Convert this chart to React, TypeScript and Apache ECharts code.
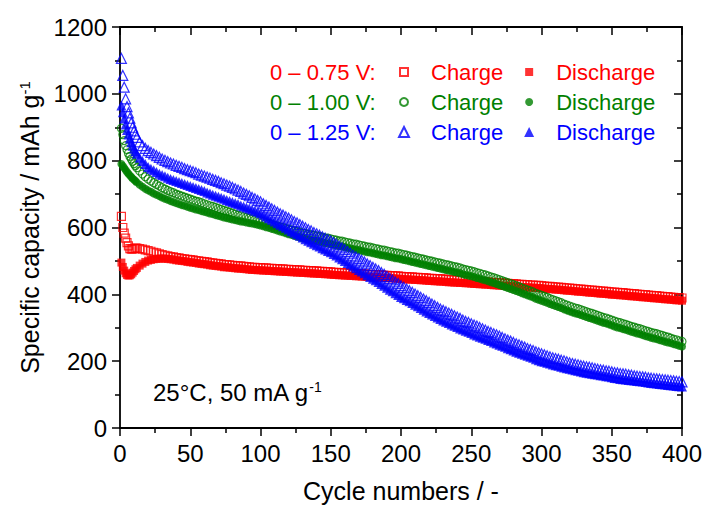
import React, { useEffect, useRef } from 'react';
import * as echarts from 'echarts';

const CYCLES = [
  1, 2, 3, 4, 5, 6, 7, 8, 9, 10, 11, 12,
  14, 16, 18, 20,
  22, 24, 26, 28, 30, 32, 34, 36, 38, 40,
  42, 44, 46, 48, 50, 52, 54, 56, 58, 60,
  62, 64, 66, 68, 70, 72, 74, 76, 78, 80,
  82, 84, 86, 88, 90, 92, 94, 96, 98, 100,
  102, 104, 106, 108, 110, 112, 114, 116, 118, 120,
  122, 124, 126, 128, 130, 132, 134, 136, 138, 140,
  142, 144, 146, 148, 150, 152, 154, 156, 158, 160,
  162, 164, 166, 168, 170, 172, 174, 176, 178, 180,
  182, 184, 186, 188, 190, 192, 194, 196, 198, 200,
  202, 204, 206, 208, 210, 212, 214, 216, 218, 220,
  222, 224, 226, 228, 230, 232, 234, 236, 238, 240,
  242, 244, 246, 248, 250, 252, 254, 256, 258, 260,
  262, 264, 266, 268, 270, 272, 274, 276, 278, 280,
  282, 284, 286, 288, 290, 292, 294, 296, 298, 300,
  302, 304, 306, 308, 310, 312, 314, 316, 318, 320,
  322, 324, 326, 328, 330, 332, 334, 336, 338, 340,
  342, 344, 346, 348, 350, 352, 354, 356, 358, 360,
  362, 364, 366, 368, 370, 372, 374, 376, 378, 380,
  382, 384, 386, 388, 390, 392, 394, 396, 398, 400,
];

// 0 – 0.75 V
const RED_CHARGE = [
  633, 600, 583, 568, 555, 545, 537, 535, 536, 537, 538, 538,
  537, 535, 533, 531,
  529, 526, 524, 521, 519, 517, 515, 513, 512, 510,
  509, 507, 506, 505, 504, 503, 501, 500, 499, 498,
  497, 495, 494, 493, 492, 491, 489, 489, 488, 487,
  486, 485, 485, 484, 483, 482, 481, 481, 480, 480,
  479, 479, 478, 478, 477, 477, 476, 476, 475, 475,
  474, 474, 473, 473, 472, 472, 471, 471, 470, 470,
  469, 469, 468, 468, 467, 466, 466, 465, 465, 464,
  464, 463, 463, 462, 462, 461, 461, 460, 460, 459,
  459, 458, 458, 457, 457, 456, 456, 455, 455, 454,
  453, 453, 452, 452, 451, 451, 450, 450, 449, 448,
  448, 447, 447, 446, 446, 445, 444, 444, 443, 443,
  442, 442, 441, 441, 440, 439, 439, 438, 438, 437,
  437, 436, 435, 435, 434, 434, 433, 433, 432, 432,
  431, 430, 430, 429, 429, 428, 428, 427, 427, 426,
  425, 424, 424, 423, 422, 422, 421, 420, 419, 419,
  418, 417, 416, 416, 415, 414, 413, 413, 412, 411,
  410, 410, 409, 408, 407, 407, 406, 405, 405, 404,
  403, 402, 402, 401, 400, 399, 399, 398, 397, 396,
  396, 395, 394, 393, 393, 392, 391, 390, 390, 389,
];
const RED_DISCHARGE = [
  495, 482, 471, 463, 458, 456, 457, 460, 465, 470, 475, 479,
  486, 492, 497, 501,
  503, 505, 506, 507, 507, 507, 506, 505, 504, 502,
  501, 500, 499, 497, 496, 495, 494, 492, 491, 490,
  489, 487, 486, 485, 484, 483, 481, 481, 480, 479,
  478, 477, 477, 476, 475, 474, 473, 473, 472, 472,
  471, 471, 470, 470, 469, 469, 468, 468, 467, 467,
  466, 466, 465, 465, 464, 464, 463, 463, 462, 462,
  461, 461, 460, 460, 459, 458, 458, 457, 457, 456,
  456, 455, 455, 454, 454, 453, 453, 452, 452, 451,
  451, 450, 450, 449, 449, 448, 448, 447, 447, 446,
  445, 445, 444, 444, 443, 443, 442, 442, 441, 440,
  440, 439, 439, 438, 438, 437, 436, 436, 435, 435,
  434, 434, 433, 433, 432, 431, 431, 430, 430, 429,
  429, 428, 427, 427, 426, 426, 425, 425, 424, 424,
  423, 422, 422, 421, 421, 420, 420, 419, 419, 418,
  417, 416, 416, 415, 414, 414, 413, 412, 411, 411,
  410, 409, 408, 408, 407, 406, 405, 405, 404, 403,
  402, 402, 401, 400, 399, 399, 398, 397, 397, 396,
  395, 394, 394, 393, 392, 391, 391, 390, 389, 388,
  388, 387, 386, 385, 385, 384, 383, 382, 382, 381,
];

// 0 – 1.00 V
const GREEN_CHARGE = [
  897, 878, 860, 845, 833, 822, 813, 805, 798, 791, 785, 779,
  769, 760, 752, 745,
  739, 734, 729, 724, 719, 715, 711, 707, 704, 700,
  697, 694, 691, 688, 685, 682, 679, 677, 674, 671,
  668, 665, 663, 660, 657, 654, 651, 649, 646, 643,
  640, 637, 635, 632, 630, 628, 626, 624, 622, 620,
  617, 614, 612, 609, 607, 605, 602, 600, 597, 595,
  593, 590, 588, 586, 584, 582, 580, 578, 577, 575,
  573, 571, 569, 568, 566, 564, 562, 560, 559, 557,
  555, 553, 551, 550, 548, 546, 544, 542, 541, 539,
  537, 535, 533, 532, 530, 528, 526, 524, 523, 521,
  519, 517, 515, 513, 511, 509, 507, 505, 503, 501,
  499, 497, 495, 493, 491, 489, 487, 485, 483, 481,
  479, 476, 474, 472, 470, 468, 465, 463, 460, 458,
  455, 452, 450, 447, 444, 441, 438, 435, 432, 429,
  426, 423, 419, 416, 413, 410, 407, 403, 400, 397,
  394, 391, 387, 384, 381, 378, 375, 371, 368, 365,
  362, 359, 357, 354, 351, 348, 345, 343, 340, 337,
  334, 331, 329, 326, 323, 320, 317, 315, 312, 310,
  307, 304, 302, 299, 297, 294, 291, 289, 286, 284,
  282, 279, 277, 274, 272, 269, 266, 264, 261, 259,
];
const GREEN_DISCHARGE = [
  790, 784, 778, 772, 766, 761, 756, 751, 747, 743, 739, 735,
  728, 722, 716, 711,
  707, 702, 698, 694, 690, 686, 683, 679, 676, 673,
  670, 667, 665, 662, 659, 657, 654, 652, 649, 647,
  645, 642, 640, 637, 635, 633, 630, 628, 626, 624,
  622, 620, 618, 617, 615, 613, 612, 610, 608, 606,
  604, 601, 599, 596, 594, 591, 588, 586, 583, 580,
  578, 575, 573, 570, 568, 566, 564, 562, 561, 559,
  557, 555, 553, 552, 550, 548, 546, 544, 543, 541,
  539, 537, 535, 534, 532, 530, 528, 526, 525, 523,
  521, 519, 517, 516, 514, 512, 510, 508, 507, 505,
  503, 501, 499, 497, 495, 493, 491, 489, 487, 485,
  483, 481, 479, 477, 475, 473, 471, 469, 467, 465,
  463, 460, 458, 456, 454, 452, 449, 447, 444, 442,
  439, 436, 434, 431, 428, 425, 422, 419, 416, 413,
  410, 407, 403, 400, 397, 394, 391, 387, 384, 381,
  378, 375, 371, 368, 365, 362, 359, 355, 352, 349,
  346, 343, 341, 338, 335, 332, 329, 327, 324, 321,
  318, 315, 313, 310, 307, 304, 301, 299, 296, 294,
  291, 288, 286, 283, 281, 278, 275, 273, 270, 268,
  266, 263, 261, 258, 256, 254, 251, 249, 246, 244,
];

// 0 – 1.25 V
const BLUE_CHARGE = [
  1106, 1055, 1020, 985, 962, 943, 927, 913, 900, 889, 879, 870,
  856, 845, 837, 830,
  825, 820, 815, 810, 805, 801, 797, 793, 790, 786,
  783, 780, 776, 773, 770, 767, 764, 760, 757, 754,
  751, 748, 744, 741, 738, 734, 731, 727, 724, 720,
  716, 712, 708, 703, 699, 695, 690, 686, 681, 677,
  671, 666, 661, 656, 651, 646, 641, 637, 632, 628,
  623, 618, 614, 609, 604, 599, 594, 590, 585, 581,
  577, 572, 568, 564, 560, 555, 550, 544, 539, 534,
  528, 523, 517, 512, 507, 502, 497, 491, 486, 481,
  476, 471, 465, 460, 454, 448, 443, 437, 432, 426,
  421, 416, 411, 406, 401, 396, 391, 386, 381, 376,
  371, 366, 361, 356, 352, 348, 344, 340, 336, 332,
  328, 323, 319, 316, 312, 308, 305, 301, 297, 293,
  289, 286, 282, 279, 275, 271, 267, 263, 260, 256,
  252, 249, 245, 242, 238, 235, 232, 228, 225, 222,
  219, 216, 213, 210, 208, 206, 203, 201, 198, 195,
  193, 191, 189, 187, 185, 183, 182, 180, 178, 176,
  174, 173, 171, 170, 168, 166, 165, 163, 162, 161,
  159, 158, 156, 155, 154, 153, 152, 150, 149, 148,
  147, 146, 145, 144, 143, 142, 141, 140, 139, 138,
];
const BLUE_DISCHARGE = [
  965, 945, 926, 908, 892, 878, 866, 855, 845, 836, 828, 821,
  809, 799, 790, 781,
  776, 771, 766, 761, 757, 753, 749, 745, 742, 739,
  736, 733, 730, 727, 724, 721, 718, 715, 712, 709,
  705, 702, 698, 695, 692, 689, 686, 682, 679, 676,
  673, 670, 666, 663, 660, 657, 654, 650, 647, 643,
  638, 633, 628, 623, 618, 613, 608, 604, 599, 594,
  589, 584, 580, 575, 570, 565, 560, 556, 551, 547,
  543, 538, 534, 530, 526, 521, 516, 510, 505, 500,
  494, 489, 483, 478, 473, 468, 463, 457, 452, 447,
  442, 437, 431, 426, 420, 414, 409, 403, 398, 392,
  388, 383, 379, 374, 369, 364, 359, 354, 349, 344,
  340, 335, 331, 326, 322, 318, 314, 310, 306, 302,
  298, 295, 291, 288, 284, 280, 277, 273, 270, 267,
  263, 260, 256, 253, 249, 246, 243, 239, 236, 232,
  228, 225, 222, 219, 216, 213, 210, 206, 203, 200,
  198, 195, 193, 190, 188, 186, 183, 181, 179, 177,
  175, 173, 171, 169, 167, 165, 164, 162, 161, 160,
  158, 157, 155, 154, 152, 150, 149, 147, 146, 145,
  144, 143, 142, 141, 140, 139, 138, 136, 135, 134,
  133, 132, 131, 130, 129, 128, 127, 126, 125, 124,
];

const RANGE_LABELS = ['0 – 0.75 V:', '0 – 1.00 V:', '0 – 1.25 V:'];

const RED = '#FF0000';
const GREEN = '#008000';
const BLUE = '#0000FF';
const FONT = '"Liberation Sans", Arial, Helvetica, sans-serif';

export default function App() {
  const ref = useRef<HTMLDivElement>(null);

  useEffect(() => {
    if (!ref.current) return;
    const chart = echarts.init(ref.current, null, { renderer: 'svg' });
    const pts = (vals: number[]) => CYCLES.map((c, i) => [c, vals[i]]);

    const groups = [
      { range: RANGE_LABELS[0], color: RED, symbol: 'rect', size: 8, legendSize: 8, charge: RED_CHARGE, discharge: RED_DISCHARGE },
      { range: RANGE_LABELS[1], color: GREEN, symbol: 'circle', size: 8, legendSize: 8, charge: GREEN_CHARGE, discharge: GREEN_DISCHARGE },
      { range: RANGE_LABELS[2], color: BLUE, symbol: 'triangle', size: 10, legendSize: 10, charge: BLUE_CHARGE, discharge: BLUE_DISCHARGE },
    ];

    const series: any[] = [];
    const legends: any[] = [];
    const graphics: any[] = [];
    groups.forEach((g, i) => {
      const cName = `${g.range} Charge`;
      const dName = `${g.range} Discharge`;
      series.push({
        name: cName,
        type: 'scatter',
        symbol: g.symbol,
        symbolSize: g.size,
        data: pts(g.charge),
        itemStyle: { color: 'rgba(0,0,0,0)', borderColor: g.color, borderWidth: 1.2 },
        silent: true,
        emphasis: { disabled: true },
        z: 2 + i * 2,
      });
      series.push({
        name: dName,
        type: 'scatter',
        symbol: g.symbol,
        symbolSize: g.size,
        data: pts(g.discharge),
        itemStyle: { color: g.color, borderWidth: 0 },
        silent: true,
        emphasis: { disabled: true },
        z: 3 + i * 2,
      });
      const s = g.legendSize;
      legends.push({
        left: 403 - s / 2,
        top: 60 + i * 30,
        padding: 0,
        orient: 'horizontal',
        itemWidth: s,
        itemHeight: s,
        itemGap: 528 - s / 2 - 502,
        selectedMode: false,
        data: [cName, dName],
        formatter: (n: string) => (n.endsWith('Discharge') ? 'Discharge' : 'Charge'),
        textStyle: {
          color: g.color,
          fontSize: 22,
          fontFamily: FONT,
          lineHeight: 24,
          padding: [0, 0, 0, 430 - (403 + s / 2 + 5)],
        },
      });
      graphics.push({
        type: 'text',
        x: 270,
        y: 72 + i * 30,
        silent: true,
        style: {
          text: g.range,
          fill: g.color,
          fontSize: 22,
          fontFamily: FONT,
          align: 'left',
          verticalAlign: 'middle',
        },
      });
    });

    graphics.push({
      type: 'text',
      x: 153,
      y: 392,
      silent: true,
      style: {
        text: '25°C, 50 mA g{sup|-1}',
        fill: '#000',
        fontSize: 24,
        fontFamily: FONT,
        align: 'left',
        verticalAlign: 'middle',
        rich: {
          sup: { fontSize: 14, fontFamily: FONT, fill: '#000', verticalAlign: 'top' },
        },
      },
    });

    const axisLine = { show: true, onZero: false, lineStyle: { color: '#000', width: 1.8 } };
    const tickStyle = { color: '#000', width: 1.5 };
    const plain = (v: number) => String(v);

    chart.setOption({
      animation: false,
      backgroundColor: '#fff',
      grid: { left: 120, right: 22, top: 27, bottom: 78, containLabel: false, outerBoundsMode: 'none' },
      legend: legends,
      graphic: graphics,
      xAxis: [
        {
          type: 'value',
          position: 'bottom',
          min: 0,
          max: 400,
          interval: 50,
          axisLine,
          axisTick: { show: true, inside: false, length: 8, lineStyle: tickStyle },
          minorTick: { show: true, splitNumber: 2, length: 5, lineStyle: tickStyle },
          splitLine: { show: false },
          minorSplitLine: { show: false },
          axisLabel: { fontSize: 24, fontFamily: FONT, color: '#000', margin: 13, formatter: plain },
          name: 'Cycle numbers / -',
          nameLocation: 'middle',
          nameGap: 50,
          nameTextStyle: { fontSize: 25, fontFamily: FONT, color: '#000' },
        },
        {
          type: 'value',
          position: 'top',
          min: 0,
          max: 400,
          interval: 50,
          axisLine,
          axisTick: { show: true, inside: true, length: 8, lineStyle: tickStyle },
          minorTick: { show: true, splitNumber: 2, length: 5, lineStyle: tickStyle },
          splitLine: { show: false },
          axisLabel: { show: false },
        },
      ],
      yAxis: [
        {
          type: 'value',
          position: 'left',
          min: 0,
          max: 1200,
          interval: 200,
          axisLine,
          axisTick: { show: true, inside: false, length: 8, lineStyle: tickStyle },
          minorTick: { show: true, splitNumber: 2, length: 5, lineStyle: tickStyle },
          splitLine: { show: false },
          minorSplitLine: { show: false },
          axisLabel: { fontSize: 24, fontFamily: FONT, color: '#000', margin: 13, formatter: plain },
          name: 'Specific capacity / mAh g{sup|-1}',
          nameLocation: 'middle',
          nameGap: 78,
          nameTextStyle: {
            fontSize: 25,
            fontFamily: FONT,
            color: '#000',
            rich: {
              sup: { fontSize: 15, fontFamily: FONT, color: '#000', verticalAlign: 'top' },
            },
          },
        },
        {
          type: 'value',
          position: 'right',
          min: 0,
          max: 1200,
          interval: 200,
          axisLine,
          axisTick: { show: true, inside: true, length: 8, lineStyle: tickStyle },
          minorTick: { show: true, splitNumber: 2, length: 5, lineStyle: tickStyle },
          splitLine: { show: false },
          axisLabel: { show: false },
        },
      ],
      series,
    });

    return () => {
      chart.dispose();
    };
  }, []);

  return (
    <div
      ref={ref}
      style={{ position: 'fixed', left: 0, top: 0, width: 704, height: 506, background: '#fff' }}
    />
  );
}
